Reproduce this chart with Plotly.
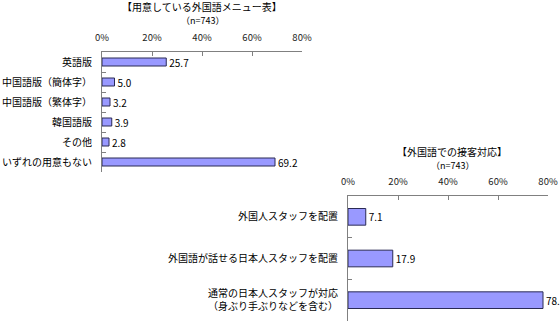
import plotly.graph_objects as go

W, H = 560, 324

cats1 = ["英語版", "中国語版（簡体字）", "中国語版（繁体字）", "韓国語版", "その他", "いずれの用意もない"]
vals1 = [25.7, 5.0, 3.2, 3.9, 2.8, 69.2]
title1 = "【用意している外国語メニュー表】"

cats2 = ["外国人スタッフを配置", "外国語が話せる日本人スタッフを配置",
         "通常の日本人スタッフが対応<br>（身ぶり手ぶりなどを含む）"]
vals2 = [7.1, 17.9, 78.0]
title2 = "【外国語での接客対応】"
subtitle = "（n=743）"

tickvals = [0, 20, 40, 60, 80]
ticktext = ["0%", "20%", "40%", "60%", "80%"]

FONT = "Noto Sans CJK JP"
BAR_FILL = "#9999ff"
BAR_LINE = "#2a2a55"
AXIS = "#808080"

def px_x(x):
    return x / W

def px_y(y):
    return 1 - y / H

fig = go.Figure()
for vals, cats, xa, ya in [(vals1, cats1, "x", "y"), (vals2, cats2, "x2", "y2")]:
    fig.add_trace(go.Bar(
        x=vals, y=cats, orientation="h", xaxis=xa, yaxis=ya,
        marker=dict(color=BAR_FILL, line=dict(color=BAR_LINE, width=1)),
        text=[f"{v:.1f}" for v in vals], textposition="outside",
        constraintext="none",
        textfont=dict(size=10, color="#000", family=FONT), cliponaxis=False,
        showlegend=False,
    ))

xcommon = dict(range=[0, 80], tickvals=tickvals, ticktext=ticktext, side="top",
               showline=True, linecolor=AXIS, linewidth=1, ticks="inside",
               ticklen=4, tickcolor=AXIS, showgrid=False, zeroline=False,
               tickfont=dict(size=9.5, color="#222", family=FONT),
               ticklabelstandoff=6, fixedrange=True, automargin=False)
ycommon = dict(showline=True, linecolor=AXIS, linewidth=1, ticks="inside",
               ticklen=4, tickcolor=AXIS, tickson="boundaries", showgrid=False,
               autorange="reversed", tickfont=dict(size=10, color="#000", family=FONT),
               ticklabelstandoff=7, fixedrange=True, automargin=False)

fig.update_layout(
    width=W, height=H, margin=dict(l=0, r=0, t=0, b=0, autoexpand=False),
    paper_bgcolor="white", plot_bgcolor="white",
    font=dict(family=FONT, color="#000"),
    bargap=0.6,
    xaxis=dict(domain=[px_x(102), px_x(302)], anchor="y", **xcommon),
    yaxis=dict(domain=[px_y(172), px_y(52)], anchor="x", **ycommon),
    xaxis2=dict(domain=[px_x(348), px_x(548)], anchor="y2", **xcommon),
    yaxis2=dict(domain=[px_y(321), px_y(196)], anchor="x2", **ycommon),
    annotations=[
        dict(text=title1, x=px_x(202), y=px_y(7), xref="paper", yref="paper",
             showarrow=False, font=dict(size=10, family=FONT, color="#000"),
             xanchor="center", yanchor="middle"),
        dict(text=subtitle, x=px_x(202), y=px_y(21), xref="paper", yref="paper",
             showarrow=False, font=dict(size=9, family=FONT, color="#000"),
             xanchor="center", yanchor="middle"),
        dict(text=title2, x=px_x(452), y=px_y(151), xref="paper", yref="paper",
             showarrow=False, font=dict(size=10, family=FONT, color="#000"),
             xanchor="center", yanchor="middle"),
        dict(text=subtitle, x=px_x(452), y=px_y(165), xref="paper", yref="paper",
             showarrow=False, font=dict(size=9, family=FONT, color="#000"),
             xanchor="center", yanchor="middle"),
    ],
)

fig.write_html("out.html")
